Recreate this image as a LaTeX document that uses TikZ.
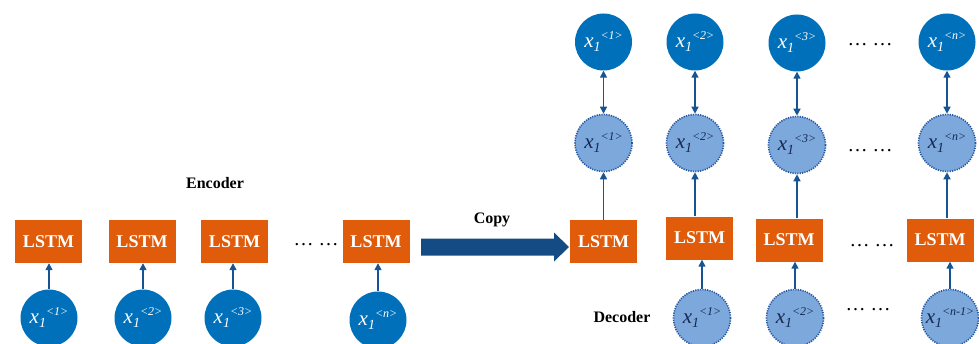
\documentclass[tikz,border=0pt]{standalone}
\usepackage{fontspec}
\setmainfont{Liberation Serif}
\usetikzlibrary{arrows.meta}
\definecolor{lorange}{RGB}{224,91,10}
\definecolor{cblue}{RGB}{0,112,186}
\definecolor{lblue}{RGB}{125,168,220}
\definecolor{dblue}{RGB}{36,86,160}
\definecolor{ablue}{RGB}{22,84,148}
\definecolor{navy}{RGB}{20,40,80}
\newcommand{\xlab}[1]{{\fontsize{21}{21}\selectfont\itshape x}\raisebox{-4pt}{\fontsize{14}{14}\selectfont\itshape 1}\raisebox{8pt}{\fontsize{12}{12}\selectfont\itshape <#1>}}
\tikzset{
  lstm/.style={fill=lorange,minimum width=67pt,minimum height=43pt,inner sep=0pt,text=white,font=\fontsize{18}{18}\selectfont\bfseries},
  solidc/.style={circle,fill=cblue,minimum size=57pt,inner sep=0pt,text=white},
  dashc/.style={circle,fill=lblue,draw=dblue,line width=1.6pt,dash pattern=on 1.2pt off 1.2pt,minimum size=57pt,inner sep=0pt,text=navy},
  conn/.style={draw=ablue,line width=1.5pt,-{Triangle[length=7pt,width=7pt]}},
  dconn/.style={draw=ablue,line width=1.5pt,{Triangle[length=7pt,width=7pt]}-{Triangle[length=7pt,width=7pt]}},
  lbl/.style={font=\fontsize{16}{16}\selectfont\bfseries,text=black},
  dotsl/.style={font=\fontsize{20}{20}\selectfont,text=black}
}
\begin{document}
\begin{tikzpicture}[x=1pt,y=1pt]
\useasboundingbox (0,0) rectangle (979,343);
% encoder
\node[lstm] (e1) at (48.5,101.5) {LSTM};
\node[lstm] (e2) at (142,101.5) {LSTM};
\node[lstm] (e3) at (234.5,101.5) {LSTM};
\node[lstm] (e4) at (376,101.5) {LSTM};
\node[solidc] (ei1) at (49,25) {\xlab{1}};
\node[solidc] (ei2) at (143,25) {\xlab{2}};
\node[solidc] (ei3) at (233,25) {\xlab{3}};
\node[solidc] (ei4) at (378,23) {\xlab{n}};
\foreach \i in {1,...,4} {\draw[conn] (ei\i.north) -- (ei\i.north |- e\i.south);}
\node[dotsl] (edots) at (316,98) {\dots\ \dots};
\node[lbl] (enc) at (215,160) {Encoder};
% copy arrow
\node[lstm] (d1) at (603.5,101.5) {LSTM};
\fill[ablue!90!black] (421,87.5) -- (554,87.5) -- (554,81.5) -- (569,96) -- (554,110.5) -- (554,104.5) -- (421,104.5) -- cycle;
\node[lbl] (copy) at (492,123) {Copy};
% decoder boxes
\node[lstm] (d2) at (699.5,105) {LSTM};
\node[lstm] (d3) at (789,103) {LSTM};
\node[lstm] (d4) at (940,103) {LSTM};
\node[dotsl] (ddots) at (872,97) {\dots\ \dots};
% decoder inputs
\node[dashc] (di2) at (702,25) {\xlab{1}};
\node[dashc] (di3) at (795,25) {\xlab{2}};
\node[dashc] (di4) at (950,25) {\xlab{n-1}};
\node[dotsl] (didots) at (868,33) {\dots\ \dots};
\node[lbl] (dec) at (622,26) {Decoder};
\foreach \i in {2,3,4} {\draw[conn] (di\i.north) -- (di\i.north |- d\i.south);}
% middle dashed circles
\node[dashc] (m1) at (603.5,200) {\xlab{1}};
\node[dashc] (m2) at (695,200) {\xlab{2}};
\node[dashc] (m3) at (797,198) {\xlab{3}};
\node[dashc] (m4) at (947,200) {\xlab{n}};
\node[dotsl] (mdots) at (870,192) {\dots\ \dots};
\foreach \i in {1,...,4} {\draw[conn] (m\i |- d\i.north) -- (m\i);}
% top circles
\node[solidc] (t1) at (603.5,301) {\xlab{1}};
\node[solidc] (t2) at (695,301) {\xlab{2}};
\node[solidc] (t3) at (797,300) {\xlab{3}};
\node[solidc] (t4) at (947,301) {\xlab{n}};
\node[dotsl] (tdots) at (870,298) {\dots\ \dots};
\foreach \i in {1,...,4} {\draw[dconn] (t\i) -- (m\i);}
\end{tikzpicture}
\end{document}
